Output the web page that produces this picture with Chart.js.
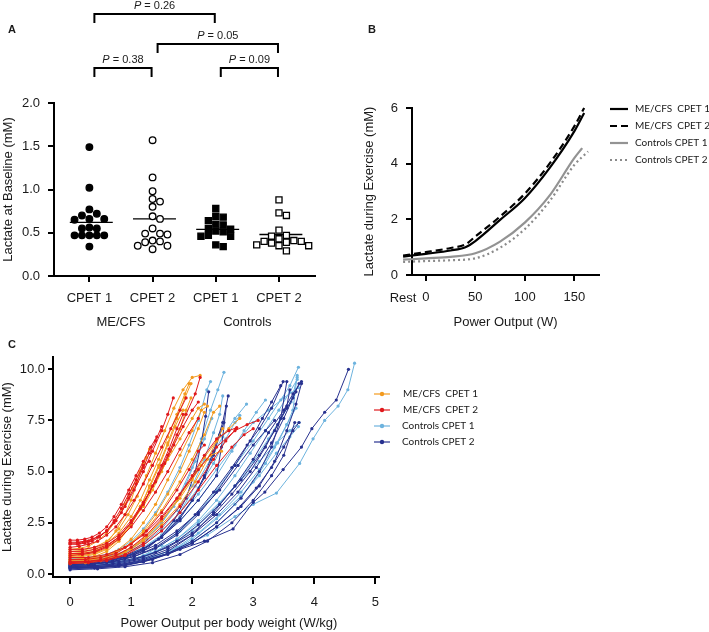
<!DOCTYPE html>
<html>
<head>
<meta charset="utf-8">
<script src="https://cdn.jsdelivr.net/npm/chart.js@4.4.1/dist/chart.umd.min.js"></script>
<style>
  body { margin: 0; background: #fff; }
  #wrap { position: relative; width: 709px; height: 632px; }
  canvas { position: absolute; }
</style>
</head>
<body>
<div id="wrap">
  <canvas id="chartA" width="360" height="335" style="left:0;top:0"></canvas>
  <canvas id="chartB" width="349" height="335" style="left:360px;top:0"></canvas>
  <canvas id="chartC" width="709" height="297" style="left:0;top:335px"></canvas>
</div>
<script>
// ---- panel A: baseline lactate ----
var groupsA = ['CPET 1', 'CPET 2', 'CPET 1', 'CPET 2'];
var cohortsA = ['ME/CFS', 'Controls'];
var mecfsCpet1Base = [1.49, 1.02, 0.77, 0.72, 0.70, 0.66, 0.66, 0.65, 0.56, 0.55, 0.55, 0.47, 0.47, 0.47, 0.47, 0.47, 0.34];
var mecfsCpet2Base = [1.57, 1.14, 0.98, 0.89, 0.86, 0.80, 0.69, 0.66, 0.55, 0.49, 0.49, 0.48, 0.41, 0.40, 0.39, 0.35, 0.35, 0.31];
var ctrlCpet1Base = [0.78, 0.69, 0.68, 0.64, 0.60, 0.59, 0.55, 0.54, 0.52, 0.51, 0.47, 0.46, 0.46, 0.36, 0.34];
var ctrlCpet2Base = [0.88, 0.73, 0.70, 0.53, 0.47, 0.46, 0.43, 0.41, 0.40, 0.40, 0.39, 0.38, 0.36, 0.35, 0.35, 0.29];
var baseMedians = [0.62, 0.66, 0.54, 0.48];
var yTicksA = [0, 0.5, 1.0, 1.5, 2.0];
// [from group, to group, P value]
var pComparisons = [[1, 2, '0.38'], [3, 4, '0.09'], [2, 4, '0.05'], [1, 3, '0.26']];

// ---- panel B: mean lactate vs power ----
var mecfsPower = [-23, 0, 25, 40, 50, 75, 100, 125, 150, 160];
var mecfsCpet1Mean = [0.66, 0.76, 0.88, 1.0, 1.22, 1.98, 2.76, 3.84, 5.16, 5.82];
var mecfsCpet2Mean = [0.70, 0.82, 0.97, 1.1, 1.38, 2.10, 2.92, 4.00, 5.34, 6.00];
var ctrlCpet1Power = [-23, 0, 25, 50, 75, 100, 125, 150, 158];
var ctrlCpet1Mean = [0.55, 0.60, 0.65, 0.78, 1.20, 1.88, 2.85, 4.20, 4.56];
var ctrlCpet2Power = [-23, 0, 25, 50, 75, 100, 125, 150, 164];
var ctrlCpet2Mean = [0.47, 0.50, 0.53, 0.60, 0.98, 1.65, 2.65, 3.95, 4.44];
var xTicksB = [0, 50, 100, 150];
var yTicksB = [0, 2, 4, 6];
var seriesNamesB = ['ME/CFS  CPET 1', 'ME/CFS  CPET 2', 'Controls CPET 1', 'Controls CPET 2'];

// ---- panel C: individual curves, [W/kg, mM] ----
var mecfsCpet1Curves = [
  [[0,0.9],[0.15,0.95],[0.3,1.0],[0.45,1.15],[0.6,1.5],[0.75,2.1],[0.9,2.9],[1.0,3.6],[1.1,4.5],[1.2,5.4],[1.3,6.1]],
  [[0,0.7],[0.2,0.75],[0.4,0.85],[0.6,1.1],[0.8,1.6],[1.0,2.4],[1.15,3.2],[1.3,4.3],[1.45,5.3],[1.6,6.4],[1.75,7.6],[1.88,8.6],[1.98,9.3]],
  [[0,1.1],[0.2,1.15],[0.4,1.3],[0.6,1.6],[0.8,2.2],[0.95,2.9],[1.1,3.8],[1.25,4.8],[1.4,5.9],[1.55,7.0],[1.7,8.1],[1.85,9.0],[2.0,9.6],[2.13,9.7]],
  [[0,0.6],[0.25,0.65],[0.5,0.8],[0.75,1.1],[1.0,1.7],[1.2,2.5],[1.4,3.4],[1.6,4.6],[1.8,5.8],[2.0,7.0],[2.15,8.0],[2.25,8.2]],
  [[0,0.5],[0.25,0.55],[0.5,0.65],[0.75,0.85],[1.0,1.2],[1.25,1.8],[1.5,2.6],[1.75,3.6],[2.0,4.7],[2.2,5.7],[2.4,6.5],[2.6,7.1],[2.78,7.6]],
  [[0,1.2],[0.15,1.25],[0.3,1.35],[0.45,1.6],[0.6,2.0],[0.75,2.6],[0.9,3.4],[1.02,4.2],[1.14,5.0],[1.25,5.7]],
  [[0,0.8],[0.2,0.85],[0.4,0.95],[0.6,1.2],[0.8,1.7],[1.0,2.4],[1.2,3.4],[1.4,4.5],[1.6,5.6],[1.8,6.6],[2.0,7.6],[2.1,8.1],[2.2,8.3]],
  [[0,0.6],[0.3,0.65],[0.6,0.8],[0.9,1.1],[1.2,1.7],[1.5,2.6],[1.8,3.7],[2.0,4.6],[2.15,5.3],[2.3,5.8],[2.48,6.0]],
  [[0,1.0],[0.2,1.05],[0.4,1.2],[0.6,1.5],[0.8,2.0],[1.0,2.8],[1.15,3.6],[1.3,4.6],[1.45,5.6],[1.6,6.7],[1.75,7.8],[1.88,8.8],[1.95,9.3]],
  [[0,0.7],[0.3,0.75],[0.6,0.9],[0.9,1.3],[1.2,2.0],[1.5,3.1],[1.8,4.5],[2.0,5.6],[2.2,6.8],[2.35,7.9],[2.45,8.2]],
  [[0,0.85],[0.2,0.9],[0.4,1.0],[0.6,1.25],[0.8,1.75],[1.0,2.5],[1.15,3.3],[1.3,4.2],[1.45,5.2],[1.6,6.3],[1.72,7.2],[1.85,8.0]],
  [[0,0.55],[0.3,0.6],[0.6,0.75],[0.9,1.05],[1.2,1.6],[1.5,2.4],[1.8,3.4],[2.05,4.5],[2.25,5.6],[2.4,6.5],[2.5,7.1]],
  [[0,0.65],[0.25,0.7],[0.5,0.8],[0.75,1.05],[1.0,1.5],[1.2,2.1],[1.4,2.9],[1.6,3.9],[1.8,5.0],[1.95,6.0],[2.1,7.1],[2.2,7.9]],
  [[0,0.95],[0.2,1.0],[0.4,1.1],[0.6,1.35],[0.8,1.8],[1.0,2.5],[1.2,3.3],[1.35,4.1],[1.5,5.0],[1.65,6.0],[1.8,7.1],[1.9,8.0],[1.98,8.6]]
];
var mecfsCpet2Curves = [
  [[0,1.65],[0.12,1.65],[0.24,1.7],[0.36,1.8],[0.48,2.0],[0.6,2.3],[0.72,2.8],[0.84,3.4],[0.96,4.1],[1.08,4.8],[1.2,5.5],[1.32,6.2],[1.42,6.7]],
  [[0,1.5],[0.15,1.5],[0.3,1.6],[0.45,1.8],[0.6,2.1],[0.75,2.6],[0.9,3.3],[1.05,4.1],[1.2,5.0],[1.35,6.0],[1.5,7.0],[1.6,7.8],[1.69,8.6]],
  [[0,1.3],[0.15,1.35],[0.3,1.45],[0.45,1.6],[0.6,1.9],[0.75,2.3],[0.9,2.9],[1.05,3.6],[1.2,4.4],[1.35,5.3],[1.5,6.2],[1.65,7.1],[1.8,8.0],[1.9,8.6]],
  [[0,1.1],[0.2,1.1],[0.4,1.2],[0.6,1.4],[0.8,1.8],[1.0,2.5],[1.15,3.2],[1.3,4.0],[1.45,4.9],[1.6,5.8],[1.75,6.8],[1.9,7.8],[2.05,8.8],[2.13,9.6]],
  [[0,0.9],[0.2,0.95],[0.4,1.05],[0.6,1.3],[0.8,1.7],[1.0,2.3],[1.2,3.1],[1.4,4.0],[1.6,5.0],[1.8,6.1],[1.95,6.9],[2.1,7.6]],
  [[0,0.6],[0.25,0.6],[0.5,0.7],[0.75,0.9],[1.0,1.3],[1.25,1.9],[1.5,2.7],[1.75,3.7],[2.0,4.8],[2.2,5.8],[2.4,6.6],[2.6,7.0],[2.73,7.15]],
  [[0,0.5],[0.3,0.55],[0.6,0.65],[0.9,0.9],[1.2,1.4],[1.5,2.1],[1.8,3.0],[2.1,4.1],[2.4,5.3],[2.65,6.2],[2.85,6.8],[3.0,7.1]],
  [[0,0.8],[0.3,0.8],[0.6,0.95],[0.9,1.3],[1.2,1.9],[1.5,2.8],[1.8,3.9],[2.1,5.1],[2.4,6.2],[2.7,7.0],[2.9,7.3],[3.08,7.5]],
  [[0,1.45],[0.12,1.45],[0.24,1.5],[0.36,1.6],[0.48,1.8],[0.6,2.1],[0.72,2.6],[0.84,3.2],[0.96,3.9],[1.08,4.6],[1.2,5.3],[1.3,5.5]],
  [[0,1.2],[0.2,1.2],[0.4,1.3],[0.6,1.5],[0.8,1.9],[1.0,2.6],[1.2,3.5],[1.4,4.5],[1.55,5.4],[1.7,6.3],[1.85,7.2],[2.0,8.0],[2.1,8.4]],
  [[0,1.0],[0.2,1.0],[0.4,1.1],[0.6,1.35],[0.8,1.8],[1.0,2.5],[1.2,3.4],[1.35,4.3],[1.5,5.3],[1.62,6.1],[1.75,7.1],[1.85,7.8]],
  [[0,0.7],[0.25,0.7],[0.5,0.8],[0.75,1.0],[1.0,1.45],[1.25,2.1],[1.5,3.0],[1.75,4.1],[1.95,5.1],[2.1,6.0],[2.2,6.3]],
  [[0,1.55],[0.12,1.55],[0.24,1.6],[0.36,1.7],[0.48,1.85],[0.6,2.1],[0.72,2.5],[0.84,3.0],[0.96,3.7],[1.08,4.4],[1.2,5.2],[1.3,5.9],[1.4,6.5],[1.5,7.2]],
  [[0,0.55],[0.3,0.6],[0.6,0.7],[0.9,0.95],[1.2,1.5],[1.5,2.3],[1.8,3.3],[2.1,4.5],[2.35,5.6],[2.55,6.5],[2.72,7.1]]
];
var ctrlCpet1Curves = [
  [[0,0.7],[0.25,0.7],[0.5,0.75],[0.75,0.9],[1.0,1.2],[1.25,1.7],[1.5,2.5],[1.75,3.6],[2.0,5.2],[2.15,6.6],[2.3,8.0],[2.42,9.0],[2.52,9.85]],
  [[0,0.5],[0.3,0.5],[0.6,0.6],[0.9,0.8],[1.2,1.2],[1.5,1.9],[1.8,3.0],[2.05,4.3],[2.3,5.6],[2.5,6.7],[2.7,7.6],[2.89,8.3]],
  [[0,0.4],[0.3,0.4],[0.6,0.45],[0.9,0.6],[1.2,0.9],[1.5,1.4],[1.8,2.1],[2.1,3.0],[2.4,4.1],[2.7,5.3],[3.0,6.5],[3.25,7.6],[3.45,8.5],[3.6,9.2],[3.74,10.1]],
  [[0,0.6],[0.3,0.6],[0.6,0.7],[0.9,0.9],[1.2,1.3],[1.5,1.9],[1.8,2.8],[2.1,3.9],[2.4,5.1],[2.7,6.3],[3.0,7.4],[3.25,8.0],[3.5,8.6],[3.74,9.1]],
  [[0,0.3],[0.4,0.3],[0.8,0.4],[1.2,0.6],[1.6,1.0],[2.0,1.7],[2.4,2.7],[2.8,3.8],[3.1,4.8],[3.38,5.9],[3.6,6.7],[3.74,7.2]],
  [[0,0.5],[0.35,0.5],[0.7,0.55],[1.05,0.75],[1.4,1.1],[1.75,1.7],[2.1,2.5],[2.45,3.5],[2.8,4.6],[3.1,5.5],[3.38,6.4],[3.6,7.0],[3.75,7.4]],
  [[0,0.4],[0.45,0.45],[0.9,0.6],[1.35,0.85],[1.8,1.3],[2.25,1.9],[2.7,2.8],[3.0,3.4],[3.38,3.95],[3.76,5.4],[3.98,6.6],[4.17,7.5],[4.39,8.2],[4.55,9.0],[4.66,10.3]],
  [[0,0.8],[0.2,0.8],[0.4,0.85],[0.6,0.95],[0.8,1.2],[1.0,1.6],[1.2,2.2],[1.4,3.0],[1.6,4.0],[1.8,5.2],[1.95,6.3],[2.1,7.5],[2.24,9.0],[2.3,9.4]],
  [[0,0.35],[0.4,0.35],[0.8,0.45],[1.2,0.65],[1.6,1.0],[2.0,1.6],[2.4,2.5],[2.7,3.4],[3.0,4.5],[3.2,5.4],[3.4,6.4],[3.55,7.3],[3.65,8.0],[3.72,9.7]],
  [[0,0.6],[0.3,0.65],[0.6,0.75],[0.9,1.0],[1.2,1.4],[1.5,2.1],[1.8,3.0],[2.1,4.2],[2.35,5.4],[2.55,6.6],[2.7,7.4],[2.78,7.75]],
  [[0,0.45],[0.4,0.45],[0.8,0.55],[1.2,0.8],[1.6,1.3],[2.0,2.1],[2.35,3.1],[2.7,4.3],[3.0,5.5],[3.25,6.6],[3.45,7.6],[3.62,8.4],[3.72,9.6]],
  [[0,0.65],[0.3,0.65],[0.6,0.75],[0.9,1.0],[1.2,1.45],[1.5,2.2],[1.75,3.1],[2.0,4.3],[2.2,5.6],[2.35,6.9],[2.45,7.8],[2.5,8.7]],
  [[0,0.55],[0.3,0.55],[0.6,0.65],[0.9,0.85],[1.2,1.2],[1.5,1.8],[1.8,2.6],[2.1,3.6],[2.4,4.8],[2.65,6.0],[2.85,7.0],[3.05,7.9],[3.2,8.5]],
  [[0,0.3],[0.35,0.3],[0.7,0.4],[1.05,0.55],[1.4,0.85],[1.75,1.3],[2.1,2.0],[2.45,2.9],[2.8,4.0],[3.1,5.1],[3.35,6.2],[3.55,7.3],[3.7,8.1]],
  [[0,0.75],[0.25,0.75],[0.5,0.8],[0.75,0.95],[1.0,1.25],[1.25,1.75],[1.5,2.5],[1.7,3.3],[1.9,4.4],[2.05,5.5],[2.2,6.6],[2.32,7.6]],
  [[0,0.45],[0.35,0.45],[0.7,0.55],[1.05,0.75],[1.4,1.1],[1.75,1.7],[2.1,2.6],[2.4,3.6],[2.7,4.8],[2.95,5.9],[3.2,7.0],[3.42,8.0],[3.6,8.9],[3.72,9.5]]
];
var ctrlCpet2Curves = [
  [[0,0.3],[0.45,0.3],[0.9,0.4],[1.35,0.7],[1.8,1.2],[2.2,1.6],[2.67,2.2],[3.0,3.5],[3.19,4.0],[3.49,5.1],[3.79,6.2],[3.96,7.1],[4.17,7.9],[4.36,8.5],[4.56,10.0]],
  [[0,0.5],[0.3,0.5],[0.6,0.6],[0.9,0.8],[1.2,1.2],[1.5,1.8],[1.8,2.7],[2.0,3.6],[2.2,4.8],[2.35,6.0],[2.5,7.4],[2.59,8.7]],
  [[0,0.4],[0.3,0.45],[0.6,0.55],[0.9,0.75],[1.2,1.1],[1.45,1.7],[1.7,2.6],[1.9,3.7],[2.05,5.0],[2.15,6.4],[2.22,7.7],[2.27,8.9]],
  [[0,0.25],[0.4,0.3],[0.8,0.4],[1.2,0.6],[1.6,1.0],[2.0,1.6],[2.4,2.5],[2.8,3.7],[3.1,5.0],[3.3,6.2],[3.45,7.6],[3.55,9.4]],
  [[0,0.35],[0.4,0.35],[0.8,0.45],[1.2,0.7],[1.6,1.1],[2.0,1.9],[2.35,3.0],[2.7,4.3],[3.0,5.6],[3.25,6.9],[3.5,8.0],[3.65,8.8],[3.79,9.4]],
  [[0,0.6],[0.35,0.6],[0.7,0.7],[1.05,0.95],[1.4,1.4],[1.75,2.1],[2.1,3.0],[2.45,4.1],[2.75,5.3],[3.0,6.3],[3.2,7.0],[3.35,7.5]],
  [[0,0.2],[0.45,0.25],[0.9,0.35],[1.35,0.55],[1.8,0.95],[2.25,1.6],[2.65,2.5],[3.0,3.6],[3.3,4.8],[3.5,5.8],[3.68,7.4]],
  [[0,0.45],[0.35,0.5],[0.7,0.6],[1.05,0.85],[1.4,1.3],[1.75,2.0],[2.05,2.9],[2.35,4.0],[2.65,5.2],[2.9,6.3],[3.1,7.1],[3.3,8.1],[3.49,9.4]],
  [[0,0.3],[0.4,0.35],[0.8,0.45],[1.2,0.65],[1.6,1.0],[2.0,1.5],[2.4,2.3],[2.8,3.3],[3.1,4.3],[3.35,5.5],[3.55,7.0],[3.7,8.3],[3.79,9.3]],
  [[0,0.55],[0.3,0.55],[0.6,0.65],[0.9,0.85],[1.2,1.2],[1.5,1.8],[1.8,2.6],[2.1,3.6],[2.4,4.8],[2.48,6.2],[2.56,8.2]],
  [[0,0.35],[0.4,0.4],[0.8,0.5],[1.2,0.75],[1.6,1.2],[2.0,1.9],[2.4,2.9],[2.75,4.0],[3.05,5.2],[3.3,6.4],[3.5,7.6],[3.65,8.6],[3.75,9.3]],
  [[0,0.5],[0.35,0.5],[0.7,0.6],[1.05,0.85],[1.4,1.25],[1.75,1.9],[2.1,2.9],[2.4,4.0],[2.7,5.3],[2.95,6.5],[3.15,7.6],[3.3,8.4],[3.45,9.2]],
  [[0,0.4],[0.35,0.4],[0.7,0.5],[1.05,0.7],[1.4,1.05],[1.75,1.6],[2.1,2.4],[2.45,3.4],[2.8,4.6],[3.1,5.8],[3.35,7.0],[3.55,8.1],[3.7,8.9]],
  [[0,0.3],[0.4,0.3],[0.8,0.4],[1.2,0.6],[1.6,0.95],[2.0,1.5],[2.4,2.3],[2.75,3.2],[3.05,4.2],[3.3,5.2],[3.5,6.2],[3.65,7.0],[3.75,7.4]],
  [[0,0.6],[0.3,0.6],[0.6,0.7],[0.9,0.9],[1.2,1.25],[1.5,1.8],[1.75,2.6],[2.0,3.6],[2.2,4.7],[2.35,5.8],[2.45,6.8],[2.52,7.4]],
  [[0,0.45],[0.4,0.5],[0.8,0.6],[1.2,0.85],[1.6,1.3],[2.0,2.0],[2.35,2.9],[2.65,3.9],[2.95,5.0],[3.2,6.2],[3.4,7.3],[3.55,8.2],[3.6,9.0]]
];
var xTicksC = [0, 1, 2, 3, 4, 5];
var yTicksC = [0, 2.5, 5, 7.5, 10];

var FONT = '"Liberation Sans", Arial, sans-serif';
var LEGEND_FONT = 'Lato, "Liberation Sans", sans-serif';
var INK = '#1a1a1a';

function fixedTicks(list) {
  return function (scale) { scale.ticks = list.map(function (v) { return { value: v }; }); };
}

// black axis with outside tick marks, no grid
function axisStyle(extra, tickOpts, tickLen) {
  var base = {
    grid: { drawOnChartArea: false, color: '#000', lineWidth: 2, tickLength: tickLen || 6 },
    border: { color: '#000', width: 2 },
    ticks: Object.assign({ color: INK, font: { family: FONT, size: 13 }, padding: 8, maxRotation: 0, autoSkip: false }, tickOpts || {})
  };
  return Object.assign(base, extra);
}

function axisTitle(text, pad) {
  return { display: true, text: text, color: INK, font: { family: FONT, size: 13 }, padding: pad };
}

// simple beeswarm so the dots of one group do not overlap
function swarm(values, center) {
  var pxX = 63, pxY = 86.5, step = 7.4, minDist = 6.2;
  var placed = [];
  return values.slice().sort(function (a, b) { return b - a; }).map(function (v) {
    var py = v * pxY, off = 0;
    for (var i = 0; i < 40; i++) {
      var cand = i === 0 ? 0 : (i % 2 ? 1 : -1) * Math.ceil(i / 2) * step;
      var ok = placed.every(function (p) { return Math.hypot(p.x - cand, p.y - py) >= minDist; });
      if (ok) { off = cand; break; }
    }
    placed.push({ x: off, y: py });
    return { x: center + off / pxX, y: v };
  });
}

function label(ctx, txt, x, y, font, align) {
  ctx.font = font;
  ctx.fillStyle = INK;
  ctx.textAlign = align || 'center';
  ctx.textBaseline = 'middle';
  ctx.fillText(txt, x, y);
}

// ---------------- Panel A ----------------
var baseSets = [mecfsCpet1Base, mecfsCpet2Base, ctrlCpet1Base, ctrlCpet2Base];
var markA = [
  { style: 'circle', fill: '#000', r: 3.3 },
  { style: 'circle', fill: '#fff', r: 3.3 },
  { style: 'rect', fill: '#000', r: 4.3 },
  { style: 'rect', fill: '#fff', r: 4.3 }
];
var dsA = [];
baseSets.forEach(function (vals, i) {
  dsA.push({
    data: swarm(vals, i + 1),
    pointStyle: markA[i].style,
    pointRadius: markA[i].r,
    backgroundColor: markA[i].fill,
    borderColor: '#000',
    borderWidth: 1.3
  });
});
baseMedians.forEach(function (m, i) {
  dsA.push({
    type: 'line',
    data: [{ x: i + 1 - 0.31, y: m }, { x: i + 1 + 0.37, y: m }],
    borderColor: '#000',
    borderWidth: 1.3,
    pointRadius: 0
  });
});

var decorA = {
  id: 'decorA',
  afterDraw: function (chart) {
    var ctx = chart.ctx, xs = chart.scales.x;
    ctx.save();
    label(ctx, 'A', 8, 30, 'bold 11px ' + FONT, 'left');
    var bracketY = [68, 68, 44, 14];
    pComparisons.forEach(function (c, i) {
      var x1 = xs.getPixelForValue(c[0]) + 5;
      var x2 = xs.getPixelForValue(c[1]) - 1;
      var y = bracketY[i];
      ctx.strokeStyle = '#000';
      ctx.lineWidth = 2;
      ctx.beginPath();
      ctx.moveTo(x1, y + 9); ctx.lineTo(x1, y); ctx.lineTo(x2, y); ctx.lineTo(x2, y + 9);
      ctx.stroke();
      var rest = ' = ' + c[2];
      ctx.font = 'italic 11px ' + FONT;
      var wP = ctx.measureText('P').width;
      ctx.font = '11px ' + FONT;
      var wR = ctx.measureText(rest).width;
      var sx = (x1 + x2) / 2 - (wP + wR) / 2;
      label(ctx, 'P', sx, y - 8, 'italic 11px ' + FONT, 'left');
      label(ctx, rest, sx + wP, y - 8, '11px ' + FONT, 'left');
    });
    cohortsA.forEach(function (name, i) {
      var cx = (xs.getPixelForValue(2 * i + 1) + xs.getPixelForValue(2 * i + 2)) / 2;
      label(ctx, name, cx, 322, '13px ' + FONT);
    });
    ctx.restore();
  }
};

new Chart(document.getElementById('chartA'), {
  type: 'scatter',
  data: { datasets: dsA },
  options: {
    responsive: false, animation: false, devicePixelRatio: 1,
    layout: { padding: { left: 0, right: 45, top: 103, bottom: 0 } },
    plugins: { legend: { display: false }, tooltip: { enabled: false } },
    scales: {
      x: axisStyle({
        type: 'linear', min: 0.44, max: 4.57,
        afterBuildTicks: fixedTicks([1, 2, 3, 4]),
        afterFit: function (s) { s.height = 59; }
      }, { callback: function (v) { return groupsA[Math.round(v) - 1]; }, padding: 9 }),
      y: axisStyle({
        min: 0, max: 2,
        afterBuildTicks: fixedTicks(yTicksA),
        afterFit: function (s) { s.width = 54; },
        title: axisTitle('Lactate at Baseline (mM)', { top: 1, bottom: 0 })
      }, { callback: function (v) { return v.toFixed(1); } })
    }
  },
  plugins: [decorA]
});

// ---------------- Panel B ----------------
var styleB = [
  { color: '#000', dash: [] },
  { color: '#000', dash: [7, 4] },
  { color: '#939393', dash: [] },
  { color: '#8a8a8a', dash: [2, 3] }
];
var xB = [mecfsPower, mecfsPower, ctrlCpet1Power, ctrlCpet2Power];
var yB = [mecfsCpet1Mean, mecfsCpet2Mean, ctrlCpet1Mean, ctrlCpet2Mean];
var dsB = yB.map(function (ys, i) {
  return {
    label: seriesNamesB[i],
    data: ys.map(function (v, k) { return { x: xB[i][k], y: v }; }),
    borderColor: styleB[i].color,
    borderDash: styleB[i].dash,
    borderWidth: 2.2,
    pointRadius: 0,
    cubicInterpolationMode: 'monotone',
    clip: false
  };
}).reverse();

var decorB = {
  id: 'decorB',
  afterDraw: function (chart) {
    var ctx = chart.ctx, xs = chart.scales.x;
    ctx.save();
    label(ctx, 'B', 8, 30, 'bold 11px ' + FONT, 'left');
    label(ctx, 'Rest', xs.getPixelForValue(mecfsPower[0]), chart.chartArea.bottom + 23, '13px ' + FONT);
    seriesNamesB.forEach(function (name, i) {
      var y = 109 + i * 17;
      ctx.strokeStyle = styleB[i].color;
      ctx.lineWidth = 2.2;
      ctx.setLineDash(styleB[i].dash);
      ctx.beginPath(); ctx.moveTo(250, y); ctx.lineTo(268, y); ctx.stroke();
      ctx.setLineDash([]);
      label(ctx, name, 275, y, '10px ' + LEGEND_FONT, 'left');
    });
    ctx.restore();
  }
};

new Chart(document.getElementById('chartB'), {
  type: 'line',
  data: { datasets: dsB },
  options: {
    responsive: false, animation: false, devicePixelRatio: 1,
    layout: { padding: { left: 0, right: 110, top: 108, bottom: 0 } },
    plugins: { legend: { display: false }, tooltip: { enabled: false } },
    scales: {
      x: axisStyle({
        type: 'linear', min: -14, max: 175,
        afterBuildTicks: fixedTicks(xTicksB),
        afterFit: function (s) { s.height = 60; },
        title: axisTitle('Power Output (W)', { top: 0, bottom: 5 })
      }, { padding: 9 }),
      y: axisStyle({
        min: 0, max: 6,
        afterBuildTicks: fixedTicks(yTicksB),
        afterFit: function (s) { s.width = 52; },
        title: axisTitle('Lactate during Exercise (mM)', { top: 2, bottom: 0 })
      })
    }
  },
  plugins: [decorB]
});

// ---------------- Panel C ----------------
var groupsC = [
  { name: 'ME/CFS  CPET 2', color: '#e0191c', curves: mecfsCpet2Curves },
  { name: 'ME/CFS  CPET 1', color: '#f39a1e', curves: mecfsCpet1Curves },
  { name: 'Controls CPET 2', color: '#27318f', curves: ctrlCpet2Curves },
  { name: 'Controls CPET 1', color: '#6db3de', curves: ctrlCpet1Curves }
];
var dsC = [];
groupsC.forEach(function (g) {
  g.curves.forEach(function (curve) {
    dsC.push({
      data: curve.map(function (p) { return { x: p[0], y: p[1] }; }),
      borderColor: g.color,
      backgroundColor: g.color,
      borderWidth: 1,
      pointRadius: 1.6,
      pointBorderWidth: 0,
      showLine: true
    });
  });
});
var legendOrderC = [1, 0, 3, 2];

var decorC = {
  id: 'decorC',
  afterDraw: function (chart) {
    var ctx = chart.ctx, a = chart.chartArea;
    ctx.save();
    label(ctx, 'C', 8, 10, 'bold 11px ' + FONT, 'left');
    label(ctx, 'Power Output per body weight (W/kg)', (a.left + a.right) / 2 + 13, 288, '13px ' + FONT);
    legendOrderC.forEach(function (gi, row) {
      var g = groupsC[gi], y = 59 + row * 16;
      ctx.strokeStyle = g.color;
      ctx.fillStyle = g.color;
      ctx.lineWidth = 1.2;
      ctx.beginPath(); ctx.moveTo(374, y); ctx.lineTo(390, y); ctx.stroke();
      ctx.beginPath(); ctx.arc(382, y, 2.2, 0, Math.PI * 2); ctx.fill();
      label(ctx, g.name, row < 2 ? 403 : 402, y, '10px ' + LEGEND_FONT, 'left');
    });
    ctx.restore();
  }
};

new Chart(document.getElementById('chartC'), {
  type: 'scatter',
  data: { datasets: dsC },
  options: {
    responsive: false, animation: false, devicePixelRatio: 1,
    layout: { padding: { left: 0, right: 330, top: 22, bottom: 0 } },
    plugins: { legend: { display: false }, tooltip: { enabled: false } },
    scales: {
      x: axisStyle({
        type: 'linear', min: -0.28, max: 5.06,
        afterBuildTicks: fixedTicks(xTicksC),
        afterFit: function (s) { s.height = 55; }
      }, { padding: 11 }, 7),
      y: axisStyle({
        min: -0.15, max: 10.6,
        afterBuildTicks: fixedTicks(yTicksC),
        afterFit: function (s) { s.width = 53; },
        title: axisTitle('Lactate during Exercise (mM)', { top: 0, bottom: 0 })
      }, { padding: 3, callback: function (v) { return v.toFixed(1); } }, 5)
    }
  },
  plugins: [decorC]
});
</script>
</body>
</html>
